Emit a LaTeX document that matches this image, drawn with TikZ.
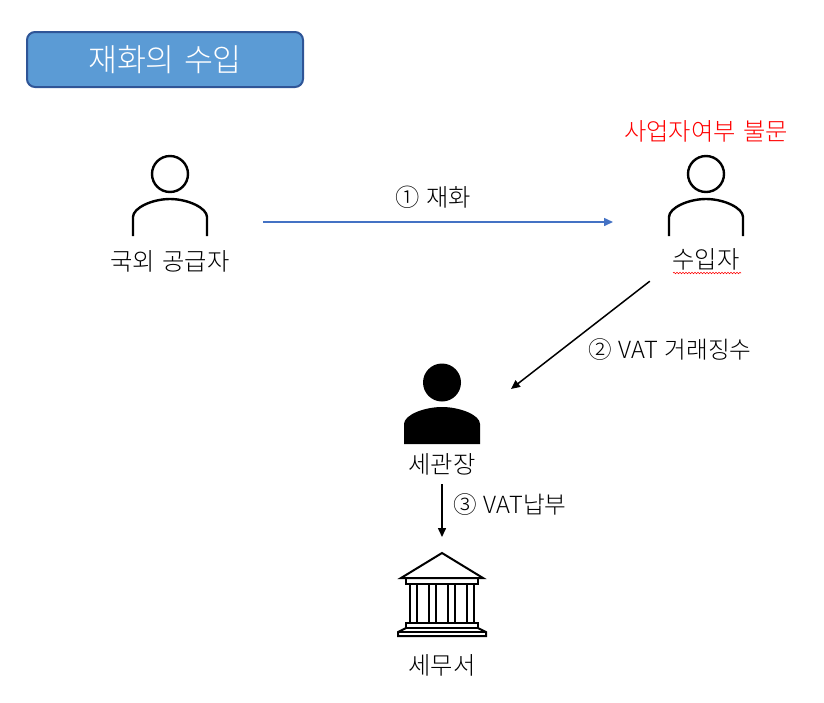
\documentclass[tikz,border=0pt]{standalone}
\usepackage{fontspec}
\setmainfont{Noto Sans CJK KR Light}[WordSpace=1.3]
\usetikzlibrary{arrows.meta,decorations.pathmorphing}
\tikzset{
  lbl/.style={inner sep=0pt,font=\fontsize{24.3}{28}\selectfont,text=black},
  numlbl/.style={inner sep=0pt,font=\fontsize{23.6}{28}\selectfont,text=black},
  anchorbox/.style={inner sep=0pt,outer sep=0pt},
  iconline/.style={line width=2.4pt,black},
  conn/.style={line width=1.5pt,-{Triangle[length=9pt,width=8pt]}},
  blueconn/.style={conn,color=arrowblue},
}
\definecolor{arrowblue}{HTML}{4472C4}
\definecolor{titlefill}{HTML}{5B9BD5}
\definecolor{titledraw}{HTML}{2F5597}
\begin{document}
\begin{tikzpicture}[x=1pt,y=-1pt]
\useasboundingbox (0,0) rectangle (824,702);
% title
\node[anchorbox,draw=titledraw,fill=titlefill,line width=2pt,rounded corners=8pt,
      minimum width=276pt,minimum height=55pt,text=white,font=\fontsize{31.5}{35}\selectfont] (title) at (165,59.5) {재화의 수입};
% labels
\node[lbl,minimum width=118pt] (supplierLabel) at (170,261) {국외 공급자};
\node[lbl,minimum width=112pt,minimum height=44pt] (importerLabel) at (706,259) {수입자};
\node[lbl,text=red] (bizNote) at (706,131) {사업자여부 불문};
\node[lbl] (goodsLabel) at (433,197) {① 재화};
\node[numlbl] (vatCollect) at (670,349.5) {② VAT 거래징수};
\node[lbl,minimum height=40pt] (customsLabel) at (442,464) {세관장};
\node[numlbl] (vatPay) at (510,504.5) {③ VAT납부};
\node[lbl] (taxLabel) at (442,665) {세무서};
% invisible icon frames
\node[anchorbox,minimum width=74pt,minimum height=132pt] (supplier) at (170,222) {};
\node[anchorbox,minimum width=74pt,minimum height=132pt] (importer) at (706,222) {};
\node[anchorbox,minimum width=138pt,minimum height=10pt] (customs) at (442,389) {};
\node[anchorbox,minimum width=90pt,minimum height=84pt] (taxOffice) at (442,594) {};
% supplier icon
\draw[iconline] (170,174) circle (18);
\draw[iconline] (133,236) -- (133,217) .. controls (133,208) and (152,199) .. (170,199) .. controls (188,199) and (207,208) .. (207,217) -- (207,236);
% importer icon
\draw[iconline] (706,174) circle (18);
\draw[iconline] (669,236) -- (669,217) .. controls (669,208) and (688,199) .. (706,199) .. controls (724,199) and (743,208) .. (743,217) -- (743,236);
% customs icon
\fill (442,382.5) circle (19);
\fill (404,444) -- (404,424) .. controls (404,415) and (424,407) .. (442,407) .. controls (460,407) and (480,415) .. (480,424) -- (480,444) -- cycle;
% tax office icon
\begin{scope}[line width=2pt,line join=miter]
\draw (442,553) -- (483,578) -- (401,578) -- cycle;
\draw (406,578) rectangle (478,584);
\foreach \xa/\xb in {409.5/416.5,428.5/435.5,448/455,467/474}{
  \draw (\xa,584) -- (\xa,623);
  \draw (\xb,584) -- (\xb,623);
}
\draw (406,623) rectangle (478,628);
\draw (406,628) -- (398,632) -- (398,636) -- (486,636) -- (486,632) -- (478,628);
\draw (398,632) -- (486,632);
\end{scope}
% spelling underline
\draw[red,line width=0.6pt,decorate,decoration={snake,amplitude=0.7pt,segment length=3pt}] (673,273) -- (741,273);
% connectors
\draw[blueconn,shorten <=56pt,shorten >=56pt] (supplier.east) -- (importer.west);
\draw[conn] (importerLabel.south west) -- (customs.east);
\draw[conn,shorten >=15pt] (customsLabel.south) -- (taxOffice.north);
\end{tikzpicture}
\end{document}
